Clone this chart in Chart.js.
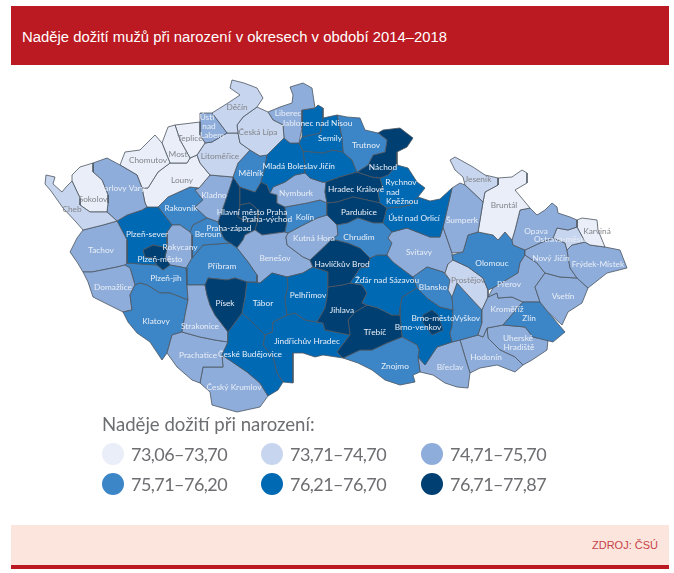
<!DOCTYPE html>
<html lang="cs"><head><meta charset="utf-8">
<script src="https://cdn.jsdelivr.net/npm/chart.js@4"></script>
<style>
html,body{margin:0;padding:0;background:#fff;width:674px;height:573px;overflow:hidden}
#wrap{position:relative;width:674px;height:573px}
#c{position:absolute;left:0;top:0}
#banner{position:absolute;left:11px;top:6px;width:658px;height:59px;background:#bc1a22;color:#fff;font:14.85px/59px "Liberation Sans",Arial,sans-serif;text-indent:11px;padding-top:0}
#banner span{position:relative;top:1.5px}
#foot{position:absolute;left:11px;top:525px;width:658px;height:40px;background:#fbe5dc;border-bottom:4px solid #bc1a22;color:#c8434a;font:11px/40px "Liberation Sans",Arial,sans-serif;text-align:right}
#foot span{margin-right:11px}
.lg{position:absolute;font-family:Lato,sans-serif;color:#6d6e71;white-space:nowrap}
.dot{position:absolute;width:22px;height:22px;border-radius:50%}
</style></head><body><div id="wrap">
<canvas id="c" width="674" height="573"></canvas>
<div id="banner"><span>Naděje dožití mužů při narození v okresech v období 2014–2018</span></div>
<div id="foot"><span>ZDROJ: ČSÚ</span></div>
<div id="legend"></div>
</div>
<script>
const legendTitle = "Naděje dožití při narození:";
const classLabels = ["73,06–73,70","73,71–74,70","74,71–75,70","75,71–76,20","76,21–76,70","76,71–77,87"];
const classColors = ["#e9eef8","#c8d5ee","#8fadda","#3c86c8","#0069b4","#003f72"];
const class1 = ["Sokolov","Chomutov","Most","Teplice","Louny","Bruntál","Karviná"];
const class2 = ["Cheb","Děčín","Litoměřice","Česká Lípa","Jeseník","Ostrava-město","Prostějov"];
const class3 = ["Karlovy Vary","Ústí nad Labem","Liberec","Šumperk","Opava","Frýdek-Místek","Nový Jičín","Vsetín","Přerov","Kroměříž","Svitavy","Nymburk","Kutná Hora","Strakonice","Prachatice","Český Krumlov","Domažlice","Tachov","Rokycany","Benešov","Břeclav","Hodonín","Uherské Hradiště","Kladno"];
const class4 = ["Trutnov","Zlín","Olomouc","Vyškov","Blansko","Chrudim","Kolín","Klatovy","Plzeň-jih","Beroun","Příbram","Znojmo","Rakovník","Mělník"];
const class5 = ["Jablonec nad Nisou","Semily","Rychnov nad Kněžnou","Ústí nad Orlicí","Jičín","Mladá Boleslav","Žďár nad Sázavou","Pelhřimov","Tábor","České Budějovice","Jindřichův Hradec","Plzeň-sever","Brno-venkov"];
const class6 = ["Hlavní město Praha","Plzeň-město","Brno-město","Náchod","Pardubice","Hradec Králové","Havlíčkův Brod","Jihlava","Třebíč","Písek","Praha-východ","Praha-západ"];

// District outlines as x,y pairs in map units
const outlines = {
"Hlavní město Praha":[240,205,250,203,258,210,258,220,247,222,238,217],
"Plzeň-město":[143,250,153,245,167,248,165,257,170,265,163,270,157,265,153,258,145,257],
"Brno-město":[423,315,432,310,438,315,443,330,432,335,423,322],
"Cheb":[46,175,55,177,53,184,62,192,66,187,72,181,80,198,80,205,90,212,107,212,117,221,103,225,83,230,76,222,63,208,51,191,45,184],
"Sokolov":[72,175,80,167,93,163,93,172,102,180,108,195,108,203,107,212,90,212,80,205,80,198,72,181],
"Karlovy Vary":[93,163,107,158,120,165,137,175,142,188,145,203,147,207,142,210,127,215,117,221,107,212,108,203,108,195,102,180,93,172],
"Chomutov":[120,165,125,152,140,150,155,135,162,143,170,163,158,172,148,188,142,188,137,175],
"Most":[162,143,168,127,175,125,180,140,190,158,187,163,170,163],
"Teplice":[175,125,200,122,200,135,205,143,197,155,190,158,180,140],
"Ústí nad Labem":[200,113,212,113,227,133,212,142,205,143,200,135,200,122],
"Děčín":[232,80,244,83,257,88,263,98,257,107,243,117,237,125,238,133,227,133,212,113,228,103,240,95,230,88],
"Česká Lípa":[257,107,268,112,273,120,283,125,284,138,267,155,260,156,250,150,240,143,238,133,237,125,243,117],
"Litoměřice":[197,155,205,143,212,142,227,133,238,133,240,143,250,150,238,163,233,177,210,175,200,163],
"Louny":[148,188,158,172,170,163,187,163,190,158,197,155,200,163,210,175,199,188,190,187,168,197,158,207,147,207,145,203,142,188],
"Liberec":[290,87,303,83,312,88,315,108,302,110,302,128,299,143,290,143,284,138,283,125,273,120,268,112,280,107,292,103,293,95],
"Jablonec nad Nisou":[302,110,315,108,318,105,323,108,323,118,320,133,302,137,302,128],
"Semily":[299,143,302,137,320,133,323,118,337,115,342,138,343,152,333,150,323,153,303,151],
"Trutnov":[337,115,347,117,360,118,365,130,378,133,387,140,385,152,373,155,368,165,357,172,352,160,343,152,342,138],
"Náchod":[378,133,383,130,400,128,413,138,407,147,397,152,397,165,388,175,380,178,372,177,357,172,368,165,373,155,385,152,387,140],
"Rychnov nad Kněžnou":[380,178,388,175,397,165,408,168,417,182,425,188,418,197,410,205,400,207,387,208,380,203,378,192,383,188],
"Ústí nad Orlicí":[387,208,400,207,410,205,418,197,430,201,440,199,452,188,447,210,443,227,440,237,430,237,407,228,392,232,383,223],
"Šumperk":[452,188,460,183,465,185,483,202,480,220,478,232,468,235,463,252,452,253,443,227,447,210],
"Jeseník":[450,160,455,157,473,167,485,175,498,178,498,185,485,192,483,202,465,185,463,177,455,170],
"Bruntál":[498,178,512,177,522,170,527,173,527,183,515,190,530,208,520,210,515,230,512,240,505,232,498,240,493,235,478,232,480,220,483,202,485,192,498,185],
"Opava":[520,210,530,208,537,215,545,210,552,203,557,207,558,213,570,217,577,220,577,227,568,230,557,228,553,238,540,243,525,250,513,245,512,240,515,230],
"Ostrava-město":[557,228,568,230,577,227,585,242,572,245,567,250,565,243,553,238],
"Karviná":[577,220,582,218,597,220,598,230,605,247,590,245,585,242,577,227],
"Frýdek-Místek":[585,242,590,245,605,247,620,250,627,268,607,273,588,288,577,278,570,268,567,250,572,245],
"Nový Jičín":[525,250,540,243,553,238,565,243,567,250,570,268,577,278,560,277,545,273,537,263,525,255],
"Vsetín":[545,273,560,277,577,278,588,288,582,303,568,312,562,325,548,312,540,302,535,287],
"Zlín":[503,325,523,302,540,302,548,312,565,332,553,342,533,337,525,327],
"Přerov":[525,255,537,263,545,273,535,287,540,302,523,302,512,297,498,298,497,293,488,297,493,288,518,273,520,263],
"Kroměříž":[482,310,488,297,497,293,498,298,512,297,523,302,503,325,487,328,483,337,478,335,482,323],
"Olomouc":[452,255,463,252,468,235,478,232,493,235,498,240,505,232,512,240,513,245,525,250,525,255,520,263,518,273,493,288,488,290,483,278,468,267,453,260],
"Prostějov":[453,260,468,267,483,278,488,290,488,297,482,310,468,295,457,283,452,297,448,290,450,280,445,273,448,264],
"Vyškov":[457,283,468,295,482,310,482,323,478,335,460,340,452,342,450,333,452,327,453,310,452,297],
"Blansko":[413,277,427,267,443,272,452,282,457,283,452,297,453,310,440,307,427,298,417,288],
"Svitavy":[392,232,407,228,430,237,440,237,443,227,452,253,453,262,448,264,445,273,443,272,427,267,413,277,393,262,387,255,392,243,388,238],
"Chrudim":[338,235,337,225,348,223,358,218,373,223,383,223,392,232,388,238,392,243,387,255,377,255,370,258,360,248,348,243,332,239],
"Pardubice":[327,203,337,202,353,197,367,200,380,203,387,208,383,223,373,223,358,218,348,223,337,225,327,215],
"Hradec Králové":[326,182,340,177,357,172,372,177,380,178,383,188,378,192,380,203,367,200,353,197,337,202,327,203,325,192],
"Jičín":[303,151,323,153,333,150,343,152,352,160,357,172,340,177,326,182,322,182,310,178,305,173,305,165],
"Mladá Boleslav":[284,138,290,143,299,143,303,151,305,165,305,173,295,175,285,182,273,187,270,193,267,185,261,182,265,168,267,155],
"Nymburk":[273,187,285,182,295,175,305,173,310,178,322,182,326,182,325,192,327,203,320,200,307,203,285,207,277,203,277,195,270,193],
"Kolín":[285,207,307,203,320,200,327,203,327,215,317,218,303,225,288,233,285,232,287,222],
"Kutná Hora":[288,233,303,225,317,218,327,215,337,225,338,235,332,239,310,260,303,257,287,245,286,237],
"Havlíčkův Brod":[310,260,332,239,348,243,360,248,370,258,368,267,360,268,350,283,342,285,328,287,328,272,313,267],
"Žďár nad Sázavou":[370,258,377,255,387,255,393,262,413,277,417,288,402,297,400,308,400,315,392,315,378,308,367,305,362,303,367,293,362,285,350,283,360,268,368,267],
"Jihlava":[328,287,342,285,350,283,362,285,367,293,362,303,367,305,355,312,348,320,350,335,340,333,325,330,323,323,317,322,325,308,327,298],
"Třebíč":[367,305,378,308,392,315,400,315,402,337,387,343,372,350,360,350,343,358,337,352,350,335,348,320,355,312],
"Pelhřimov":[287,277,303,273,313,267,328,272,328,287,327,298,325,308,317,322,305,320,295,313,287,315,285,298,288,287],
"Tábor":[247,282,260,283,272,273,287,277,288,287,285,298,287,315,273,322,272,332,265,335,250,320,242,313,245,298],
"Písek":[205,285,208,278,227,280,235,278,247,282,245,298,242,313,228,332,215,315,210,305,207,295],
"České Budějovice":[228,332,242,313,250,320,265,335,263,345,273,357,277,373,283,382,278,390,268,396,260,383,247,372,222,355,228,342],
"Jindřichův Hradec":[273,322,287,315,295,313,305,320,317,322,323,323,325,330,340,333,350,335,337,352,343,358,323,355,315,357,303,353,293,353,293,368,293,383,283,382,277,373,273,357,263,345,265,335,272,332],
"Strakonice":[187,285,205,285,207,295,210,305,215,315,228,332,228,342,215,340,200,337,182,332,185,315,188,300],
"Prachatice":[172,335,182,332,200,337,215,340,228,342,222,355,223,367,203,367,200,383,192,380,177,367,167,353],
"Český Krumlov":[203,367,223,367,222,355,247,372,260,383,268,396,260,407,237,412,212,405,210,392,200,383],
"Klatovy":[123,312,132,310,130,295,135,285,140,283,147,285,160,293,170,293,188,300,185,315,182,332,172,335,167,353,162,360,150,342,137,333,128,322],
"Domažlice":[83,272,92,272,117,267,125,265,130,268,135,285,130,295,132,310,123,312,113,307,93,297,88,282],
"Tachov":[83,230,103,225,117,221,127,240,127,263,125,265,117,267,92,272,83,272,77,262,70,252,77,238],
"Plzeň-sever":[117,221,127,215,142,210,147,207,158,207,172,225,167,232,167,248,153,245,143,250,145,257,153,258,157,265,127,263,127,240],
"Plzeň-jih":[127,263,157,265,163,270,170,265,186,268,187,285,188,300,170,293,160,293,147,285,140,283,135,285,130,268,125,265],
"Rokycany":[167,232,172,225,180,225,190,232,192,235,192,258,186,268,170,265,165,257,167,248],
"Beroun":[190,232,193,225,207,218,218,222,222,235,225,240,230,243,203,245,193,257,192,258,192,235],
"Příbram":[186,268,192,258,193,257,203,245,230,243,237,248,248,262,257,275,257,282,247,282,235,278,227,280,208,278,205,285,187,285],
"Benešov":[237,248,243,240,245,235,255,230,262,235,285,232,288,233,286,237,287,245,303,257,310,260,313,267,303,273,287,277,272,273,260,283,247,282,257,282,257,275,248,262],
"Kladno":[195,190,199,188,210,175,233,177,233,178,225,202,218,222,207,218,195,207,203,200],
"Rakovník":[158,207,168,197,190,187,199,188,195,190,203,200,195,207,207,218,193,225,190,232,180,225,172,225],
"Mělník":[250,150,260,156,267,155,265,168,261,182,255,192,240,187,233,177,238,163],
"Praha-východ":[240,187,255,192,261,182,267,185,270,193,277,195,277,203,285,207,287,222,285,232,262,235,255,230,258,220,258,210,250,203,240,205,240,197],
"Praha-západ":[233,177,240,187,240,205,238,217,247,222,258,220,255,230,245,235,243,240,237,248,230,243,225,240,222,235,218,222,225,202],
"Znojmo":[343,358,360,350,372,350,387,343,402,337,417,345,419,350,418,357,420,372,413,375,415,382,400,385,385,380,372,370,358,363],
"Brno-venkov":[402,297,417,288,427,298,440,307,453,310,452,327,450,333,452,342,437,347,425,365,418,357,419,350,417,345,402,337,400,315,400,308],
"Břeclav":[418,357,425,365,437,347,452,342,460,340,465,357,470,373,468,388,457,387,445,383,433,375,420,372],
"Hodonín":[460,340,478,335,483,337,487,328,488,338,500,350,515,357,523,365,515,372,497,365,480,368,470,373,465,357],
"Uherské Hradiště":[487,328,503,325,525,327,533,337,548,340,547,350,532,360,523,365,515,357,500,350,488,338]
};

// Label anchors: text, then x,y pairs in the same map units
const mapLabels = [
["Děčín",237,107],["Ústí",207,117],["nad",209,126],["Labem",212,135],["Teplice",190,138],["Most",178,154],["Chomutov",148,160],["Louny",182,180],["Litoměřice",220,156],["Česká Lípa",258,132],["Liberec",288,113],["Jablonec nad Nisou",317,123],["Semily",330,138],["Trutnov",366,145],["Náchod",383,167],["Mladá Boleslav",290,166],["Jičín",327,166],["Mělník",251,173],["Kladno",214,195],["Karlovy Vary",122,188],["Sokolov",93,199],["Cheb",72,209],["Rakovník",181,208],["Plzeň-sever",147,234],["Beroun",208,234],["Praha-západ",229,228],["Hlavní město Praha",252,212],["Praha-východ",267,219],["Nymburk",296,193],["Kolín",305,217],["Kutná Hora",314,238],["Hradec Králové",356,189],["Pardubice",359,212],["Chrudim",359,237],["Rychnov",401,182],["nad",393,192],["Kněžnou",402,201],["Ústí nad Orlicí",414,218],["Šumperk",462,220],["Jeseník",478,179],["Bruntál",504,205],["Opava",536,231],["Ostrava-město",561,239],["Karviná",597,231],["Frýdek-Místek",598,264],["Nový Jičín",551,258],["Olomouc",492,263],["Vsetín",563,296],["Přerov",509,284],["Prostějov",468,280],["Kroměříž",507,309],["Zlín",529,318],["Uherské",518,338],["Hradiště",519,347],["Hodonín",486,357],["Břeclav",450,367],["Vyškov",467,318],["Blansko",433,287],["Brno-město",433,318],["Brno-venkov",418,327],["Žďár nad Sázavou",387,280],["Svitavy",419,252],["Havlíčkův Brod",342,264],["Pelhřimov",308,295],["Jihlava",342,310],["Třebíč",375,332],["Znojmo",395,366],["Jindřichův Hradec",307,341],["Tábor",263,303],["Benešov",275,258],["Příbram",222,266],["Písek",225,303],["Strakonice",200,326],["České Budějovice",250,354],["Prachatice",198,355],["Český Krumlov",234,387],["Klatovy",156,321],["Plzeň-jih",166,278],["Plzeň-město",160,259],["Rokycany",180,247],["Domažlice",113,287],["Tachov",101,250]
];
const greyLabels = ["Děčín","Teplice","Most","Chomutov","Louny","Litoměřice","Česká Lípa","Sokolov","Cheb","Jeseník","Bruntál","Karviná","Prostějov"];

const classes = [class1,class2,class3,class4,class5,class6];
const classOf = {};
classes.forEach((list,i)=>list.forEach(n=>classOf[n]=i));
const toPoints = a => { const p=[]; for(let i=0;i<a.length;i+=2) p.push({x:a[i],y:a[i+1]}); p.push({x:a[0],y:a[1]}); return p; };

const datasets = Object.keys(outlines).map(name=>({
  label:name, data:toPoints(outlines[name]), showLine:true, fill:'shape', tension:0,
  backgroundColor:classColors[classOf[name]], borderColor:'#4b5661', borderWidth:0.8,
  borderJoinStyle:'round', pointRadius:0, pointHoverRadius:0
}));

const labelPlugin = { id:'mapLabels', afterDatasetsDraw(chart){
  const {ctx,scales:{x,y}}=chart; ctx.save();
  ctx.font='8.3px Lato, sans-serif'; ctx.textAlign='center'; ctx.textBaseline='middle';
  mapLabels.forEach(([t,a,b])=>{
    ctx.fillStyle = greyLabels.includes(t) ? '#83868b' : '#e8eef7';
    ctx.fillText(t,x.getPixelForValue(a),y.getPixelForValue(b));
  });
  ctx.restore();
}};

new Chart(document.getElementById('c'),{
  type:'scatter', data:{datasets}, plugins:[labelPlugin],
  options:{responsive:false,animation:false,devicePixelRatio:1,events:[],
    layout:{padding:0},
    plugins:{legend:{display:false},tooltip:{enabled:false},title:{display:false}},
    scales:{x:{type:'linear',min:0,max:674,display:false},y:{type:'linear',min:0,max:573,reverse:true,display:false}}
  }
});

const lg=document.getElementById('legend');
const t=document.createElement('div');t.className='lg';t.textContent=legendTitle;
t.style.cssText='left:102px;top:410px;font-size:18.6px;line-height:28px';lg.appendChild(t);
classLabels.forEach((s,i)=>{
  const col=i%3,row=Math.floor(i/3),cx=[113,272,432][col],cy=[454,484][row];
  const d=document.createElement('div');d.className='dot';
  d.style.cssText=`left:${cx-11}px;top:${cy-11}px;background:${classColors[i]}`;lg.appendChild(d);
  const e=document.createElement('div');e.className='lg';e.textContent=s;
  e.style.cssText=`left:${cx+18}px;top:${cy-14}px;font-size:18px;letter-spacing:-0.55px;line-height:28px`;lg.appendChild(e);
});
</script></body></html>
